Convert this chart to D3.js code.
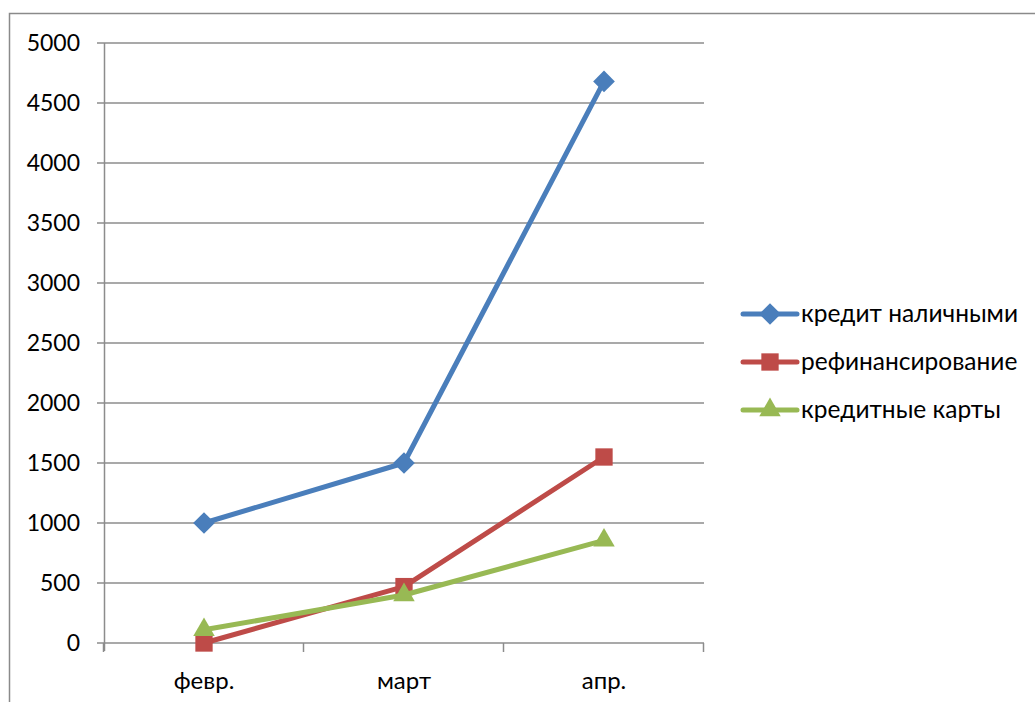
<!DOCTYPE html>
<html><head><meta charset="utf-8">
<script src="https://cdn.jsdelivr.net/npm/d3@7"></script>
<style>body{margin:0;background:#fff}svg text{font-family:Lato,"Open Sans",sans-serif;fill:#000}</style>
</head><body>
<svg id="c" width="1035" height="702"></svg>
<script>
const categories = ["февр.", "март", "апр."];
const seriesNames = ["кредит наличными", "рефинансирование", "кредитные карты"];
const cashCredit = [1000, 1500, 4680];
const refinancing = [0, 470, 1550];
const creditCards = [110, 400, 855];
const yTicks = [0, 500, 1000, 1500, 2000, 2500, 3000, 3500, 4000, 4500, 5000];

const colors = ["#4a7ebb", "#be4b48", "#98b954"];
const symbols = [d3.symbolDiamond2, d3.symbolSquare, d3.symbolTriangle2];
const seriesVals = [cashCredit, refinancing, creditCards];

const svg = d3.select("#c");
// chart border
svg.append("rect").attr("x", 9.5).attr("y", 13.5).attr("width", 1200).attr("height", 900)
  .attr("fill", "none").attr("stroke", "#8a8a8a").attr("stroke-width", 1.5);

const x = d3.scaleBand().domain(categories).range([104, 704]);
const y = d3.scaleLinear().domain([0, 5000]).range([643, 43]);
const grid = "#8c8c8c";

// gridlines with left ticks
svg.append("g").selectAll("line").data(yTicks).join("line")
  .attr("x1", 97).attr("x2", 704).attr("y1", d => y(d)).attr("y2", d => y(d))
  .attr("stroke", grid).attr("stroke-width", 1.5);
svg.append("g").selectAll("text").data(yTicks).join("text")
  .attr("x", 80).attr("y", d => y(d) + 8).attr("text-anchor", "end")
  .attr("font-size", 23).text(d => d);
// y axis line
svg.append("line").attr("x1", 104.5).attr("x2", 104.5).attr("y1", 43).attr("y2", 651)
  .attr("stroke", grid).attr("stroke-width", 1.5);
// x ticks at band edges
const edges = categories.map(c => x(c)).concat([x.range()[1]]);
svg.append("g").selectAll("line").data(edges).join("line")
  .attr("x1", d => d - 0.5).attr("x2", d => d - 0.5).attr("y1", 643).attr("y2", 652)
  .attr("stroke", grid).attr("stroke-width", 1.5);
svg.append("g").selectAll("text").data(categories).join("text")
  .attr("x", d => x(d) + x.bandwidth() / 2).attr("y", 689).attr("text-anchor", "middle")
  .attr("font-size", 24).text(d => d);

const cx = c => x(c) + x.bandwidth() / 2;
const line = d3.line().x((d, i) => cx(categories[i])).y(d => y(d));
const symSizes = [300, 300, 330];

seriesVals.forEach((vals, k) => {
  const g = svg.append("g");
  g.append("path").attr("d", line(vals)).attr("fill", "none")
    .attr("stroke", colors[k]).attr("stroke-width", 5).attr("stroke-linejoin", "round");
  g.selectAll("path.m").data(vals).join("path").attr("class", "m")
    .attr("d", d3.symbol().type(symbols[k]).size(symSizes[k]))
    .attr("transform", (d, i) => `translate(${cx(categories[i])},${y(d)})`)
    .attr("fill", colors[k]);
});

// legend
const legY = [314, 362, 410];
seriesNames.forEach((n, k) => {
  const g = svg.append("g").attr("transform", `translate(0,${legY[k]})`);
  g.append("line").attr("x1", 743).attr("x2", 797).attr("y1", 0).attr("y2", 0)
    .attr("stroke", colors[k]).attr("stroke-width", 5).attr("stroke-linecap", "round");
  g.append("path").attr("d", d3.symbol().type(symbols[k]).size(symSizes[k])())
    .attr("transform", "translate(770,0)").attr("fill", colors[k]);
  g.append("text").attr("x", 801).attr("y", 8).attr("font-size", 24.5).text(n);
});
</script>
</body></html>
